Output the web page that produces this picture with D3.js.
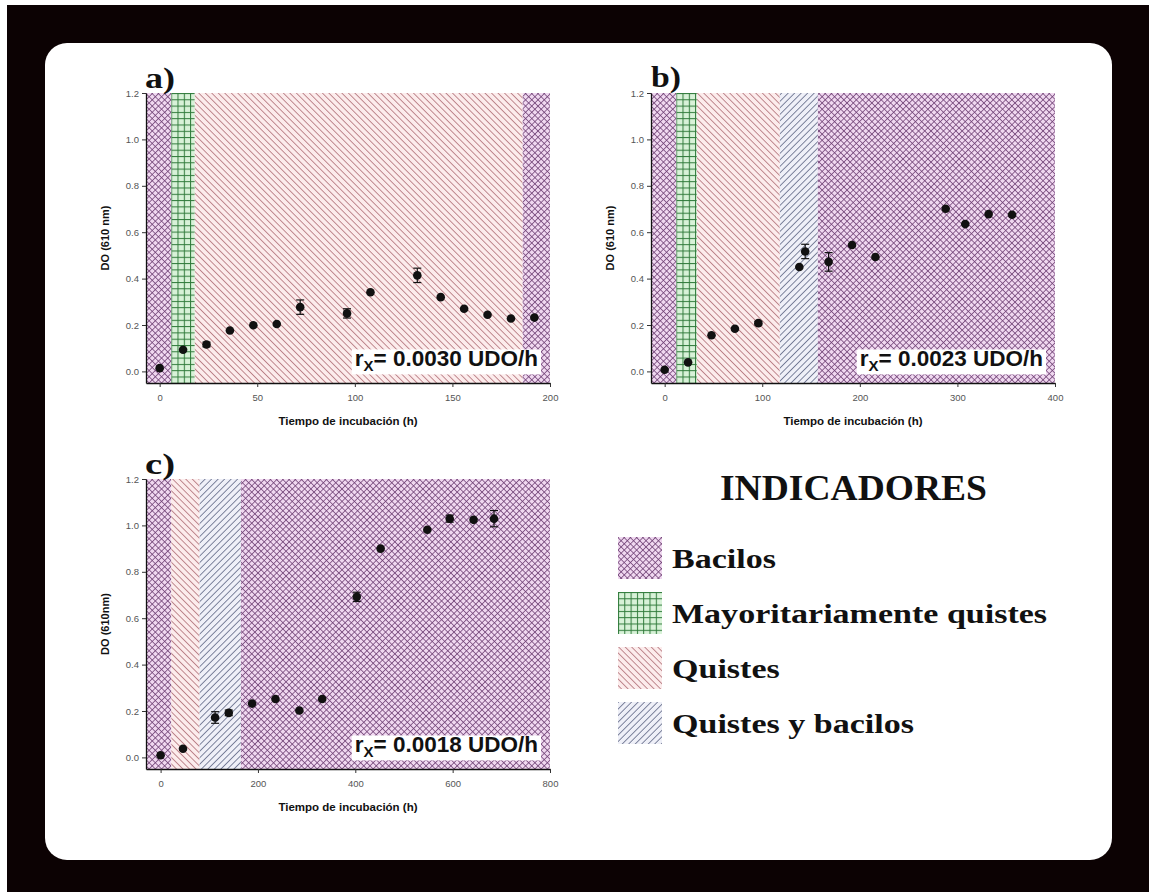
<!DOCTYPE html>
<html><head><meta charset="utf-8">
<script src="https://cdn.jsdelivr.net/npm/d3@7/dist/d3.min.js"></script>
<style>
html,body{margin:0;padding:0;background:#fff;}
svg{display:block;}
</style></head>
<body><svg id="chart" width="1149" height="892"></svg>
<script>
// ---------- DATA ----------
const panelLabels = ["a)", "b)", "c)"];
const yTitles = ["DO (610 nm)", "DO (610 nm)", "DO (610nm)"];
const xTitle = "Tiempo de incubación (h)";
const rates = ["0.0030", "0.0023", "0.0018"];

const tA = [0, 12, 24, 36, 48, 60, 72, 96, 108, 132, 144, 156, 168, 180, 192];
const doA = [0.014, 0.093, 0.116, 0.176, 0.199, 0.204, 0.277, 0.250, 0.341, 0.414, 0.320, 0.270, 0.244, 0.228, 0.232];
const errA = [0, 0, 0.01, 0, 0, 0, 0.031, 0.02, 0, 0.031, 0, 0, 0, 0, 0];

const tB = [0, 24, 48, 72, 96, 138, 144, 168, 192, 216, 288, 308, 332, 356];
const doB = [0.007, 0.039, 0.156, 0.184, 0.208, 0.450, 0.517, 0.472, 0.545, 0.493, 0.701, 0.635, 0.678, 0.675];
const errB = [0, 0, 0, 0, 0.008, 0, 0.031, 0.04, 0, 0, 0, 0, 0, 0];

const tC = [0, 46, 112, 140, 188, 236, 285, 332, 403, 452, 548, 594, 643, 685];
const doC = [0.009, 0.037, 0.172, 0.192, 0.232, 0.252, 0.202, 0.252, 0.692, 0.900, 0.981, 1.029, 1.024, 1.029];
const errC = [0, 0, 0.025, 0.012, 0, 0, 0, 0, 0.02, 0, 0, 0.015, 0, 0.035];

const bandsA = [[-7, 6, "bac"], [6, 18, "may"], [18, 186, "qui"], [186, 200, "bac"]];
const bandsB = [[-14, 12, "bac"], [12, 33, "may"], [33, 118, "qui"], [118, 157, "qyb"], [157, 400, "bac"]];
const bandsC = [[-30, 22, "bac"], [22, 80, "qui"], [80, 165, "qyb"], [165, 800, "bac"]];

const xDomains = [[-7, 200], [-14, 400], [-30, 800]];
const xTicksA = [0, 50, 100, 150, 200];
const xTicksB = [0, 100, 200, 300, 400];
const xTicksC = [0, 200, 400, 600, 800];
const yTicks = [0, 0.2, 0.4, 0.6, 0.8, 1.0, 1.2];
const yDomain = [-0.05, 1.2];

const legendTitle = "INDICADORES";
const legendKeys = ["bac", "may", "qui", "qyb"];
const legendNames = ["Bacilos", "Mayoritariamente quistes", "Quistes", "Quistes y bacilos"];

// ---------- DRAW ----------
const svg = d3.select("#chart");
svg.append("rect").attr("x", 7).attr("y", 5).attr("width", 1142).attr("height", 887).attr("fill", "#0c0203");
svg.append("rect").attr("x", 45).attr("y", 43).attr("width", 1067).attr("height", 817)
  .attr("rx", 22).attr("ry", 22).attr("fill", "#fff");

const defs = svg.append("defs");
function diagPattern(id, bg, stroke, size, angle, sw, cross) {
  const p = defs.append("pattern").attr("id", id).attr("patternUnits", "userSpaceOnUse")
    .attr("width", size).attr("height", size).attr("patternTransform", `rotate(${angle})`);
  p.append("rect").attr("width", size).attr("height", size).attr("fill", bg);
  p.append("line").attr("x1", 0).attr("y1", 0).attr("x2", 0).attr("y2", size)
    .attr("stroke", stroke).attr("stroke-width", sw);
  if (cross) p.append("line").attr("x1", 0).attr("y1", 0).attr("x2", size).attr("y2", 0)
    .attr("stroke", stroke).attr("stroke-width", sw);
}
diagPattern("pat-bac", "#f0d8f0", "#6e3f73", 4.4, 45, 1.5, true);
diagPattern("pat-qui", "#fcecec", "#a65e68", 4.6, -45, 1.4, false);
diagPattern("pat-qyb", "#eff0f8", "#4d5676", 4.6, 45, 1.4, false);
(function () {
  const s = 6.3;
  const p = defs.append("pattern").attr("id", "pat-may").attr("patternUnits", "userSpaceOnUse")
    .attr("width", s).attr("height", s);
  p.append("rect").attr("width", s).attr("height", s).attr("fill", "#d8f2d8");
  p.append("line").attr("x1", 0.5).attr("y1", 0).attr("x2", 0.5).attr("y2", s).attr("stroke", "#2f7a3a").attr("stroke-width", 1);
  p.append("line").attr("x1", 0).attr("y1", 0.5).attr("x2", s).attr("y2", 0.5).attr("stroke", "#2f7a3a").attr("stroke-width", 1);
})();

const panels = [
  { x0: 146, y0: 93, w: 404, h: 290, t: tA, v: doA, e: errA, bands: bandsA, ticks: xTicksA, lab: [145, 88] },
  { x0: 651, y0: 93, w: 404, h: 290, t: tB, v: doB, e: errB, bands: bandsB, ticks: xTicksB, lab: [651, 87] },
  { x0: 146, y0: 479, w: 404, h: 290, t: tC, v: doC, e: errC, bands: bandsC, ticks: xTicksC, lab: [145, 474] }
];

panels.forEach((P, i) => {
  const g = svg.append("g").attr("transform", `translate(${P.x0},${P.y0})`);
  const x = d3.scaleLinear().domain(xDomains[i]).range([0, P.w]);
  const y = d3.scaleLinear().domain(yDomain).range([P.h, 0]);

  g.selectAll("rect.band").data(P.bands).join("rect").attr("class", "band")
    .attr("x", d => x(d[0])).attr("width", d => x(d[1]) - x(d[0]))
    .attr("y", y(1.2)).attr("height", y(yDomain[0]) - y(1.2))
    .attr("fill", d => `url(#pat-${d[2]})`);

  // rate label
  const lab = g.append("text").attr("x", P.w - 12).attr("y", y(0) - 5)
    .attr("text-anchor", "end").attr("font-family", "Liberation Sans, Arial, sans-serif")
    .attr("font-weight", "bold").attr("font-size", 22.5).attr("fill", "#111");
  lab.append("tspan").text("r");
  lab.append("tspan").attr("font-size", 15).attr("dy", 5).text("X");
  lab.append("tspan").attr("dy", -5).text(`= ${rates[i]} UDO/h`);
  const bb = lab.node().getBBox();
  g.insert("rect", "text").attr("x", bb.x - 3).attr("y", bb.y + 3).attr("width", bb.width + 6)
    .attr("height", bb.height - 3).attr("fill", "#fff");

  const pts = P.t.map((t, k) => ({ t, v: P.v[k], e: P.e[k] }));
  const eb = g.selectAll("g.eb").data(pts.filter(d => d.e > 0)).join("g").attr("class", "eb")
    .attr("stroke", "#111").attr("stroke-width", 1.2);
  eb.append("line").attr("x1", d => x(d.t)).attr("x2", d => x(d.t)).attr("y1", d => y(d.v - d.e)).attr("y2", d => y(d.v + d.e));
  eb.append("line").attr("x1", d => x(d.t) - 4).attr("x2", d => x(d.t) + 4).attr("y1", d => y(d.v - d.e)).attr("y2", d => y(d.v - d.e));
  eb.append("line").attr("x1", d => x(d.t) - 4).attr("x2", d => x(d.t) + 4).attr("y1", d => y(d.v + d.e)).attr("y2", d => y(d.v + d.e));
  g.selectAll("circle.pt").data(pts).join("circle").attr("class", "pt")
    .attr("cx", d => x(d.t)).attr("cy", d => y(d.v)).attr("r", 4.3).attr("fill", "#111");

  const xa = g.append("g").attr("transform", `translate(0,${P.h})`)
    .call(d3.axisBottom(x).tickValues(P.ticks).tickSize(4).tickSizeOuter(0).tickFormat(d3.format("d")));
  const ya = g.append("g")
    .call(d3.axisLeft(y).tickValues(yTicks).tickSize(4).tickSizeOuter(0).tickFormat(d3.format(".1f")));
  [xa, ya].forEach(a => {
    a.select(".domain").attr("stroke", "#111").attr("stroke-width", 1.3);
    a.selectAll(".tick line").attr("stroke", "#333");
    a.selectAll("text").attr("font-family", "Liberation Sans, Arial, sans-serif").attr("font-size", 9.5).attr("fill", "#555");
  });
  xa.selectAll("text").attr("dy", "1.2em");

  g.append("text").attr("x", P.w / 2).attr("y", P.h + 42).attr("text-anchor", "middle")
    .attr("font-family", "Liberation Sans, Arial, sans-serif").attr("font-weight", "bold")
    .attr("font-size", 11.5).attr("fill", "#111").text(xTitle);
  g.append("text").attr("transform", `translate(-37,${P.h / 2}) rotate(-90)`).attr("text-anchor", "middle")
    .attr("font-family", "Liberation Sans, Arial, sans-serif").attr("font-weight", "bold")
    .attr("font-size", 11).attr("fill", "#111").text(yTitles[i]);

  svg.append("text").attr("x", P.lab[0]).attr("y", P.lab[1])
    .attr("font-family", "Liberation Serif, Times New Roman, serif").attr("font-weight", "bold")
    .attr("font-size", 30).attr("fill", "#111")
    .attr("textLength", 30).attr("lengthAdjust", "spacingAndGlyphs").text(panelLabels[i]);
});

// legend
const legendTitleWidth = 267;
svg.append("text").attr("x", 720).attr("y", 500)
  .attr("font-family", "Liberation Serif, Times New Roman, serif").attr("font-weight", "bold")
  .attr("font-size", 36).attr("fill", "#111")
  .attr("textLength", legendTitleWidth).attr("lengthAdjust", "spacingAndGlyphs").text(legendTitle);
const lg = svg.append("g").attr("transform", "translate(618,537)");
const li = lg.selectAll("g").data(legendKeys).join("g").attr("transform", (d, k) => `translate(0,${k * 55})`);
li.append("rect").attr("width", 44).attr("height", 42).attr("fill", d => `url(#pat-${d})`);
li.append("text").attr("x", 54).attr("y", 31)
  .attr("font-family", "Liberation Serif, Times New Roman, serif").attr("font-weight", "bold")
  .attr("font-size", 27).attr("fill", "#111")
  .each(function (d, k) {
    const el = d3.select(this).text(legendNames[k]);
    const w = this.getComputedTextLength();
    el.attr("textLength", w * 1.26).attr("lengthAdjust", "spacingAndGlyphs");
  });
</script></body></html>
